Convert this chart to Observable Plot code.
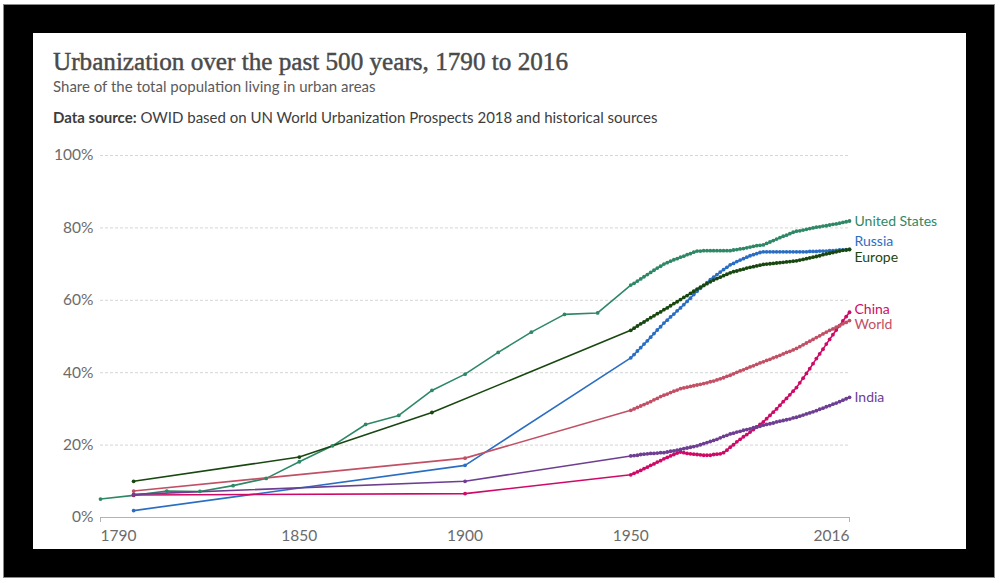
<!DOCTYPE html>
<html>
<head>
<meta charset="utf-8">
<script src="https://cdn.jsdelivr.net/npm/d3@7"></script>
<script src="https://cdn.jsdelivr.net/npm/@observablehq/plot@0.6"></script>
<style>
  html, body { margin: 0; padding: 0; background: #fff; width: 1000px; height: 583px; overflow: hidden; }
  #frame { position: absolute; left: 3px; top: 4px; width: 990px; height: 572px; background: #000; border: 1px solid #8a8a8a; }
  #panel { position: absolute; left: 33px; top: 33px; width: 933px; height: 516px; background: #fff; }
  .t { position: absolute; white-space: nowrap; }
  #title { left: 53px; top: 49px; font-family: "Liberation Serif", serif; font-size: 25px; line-height: 25px; color: #4a4a4a; transform-origin: 0 50%; -webkit-text-stroke: 0.45px #4a4a4a; }
  #subtitle { left: 53px; top: 78.5px; font-family: Lato, sans-serif; font-size: 15px; line-height: 15px; color: #5b5b5b; }
  #source { left: 53px; top: 110px; font-family: Lato, sans-serif; font-size: 15px; line-height: 15px; color: #3d3d3d; }
  #source b { font-weight: 700; }
  #chart { position: absolute; left: 40px; top: 140px; }
</style>
</head>
<body>
<div id="frame"></div>
<div id="panel"></div>
<div class="t" id="title">Urbanization over the past 500 years, 1790 to 2016</div>
<div class="t" id="subtitle">Share of the total population living in urban areas</div>
<div class="t" id="source"><b>Data source:</b> OWID based on UN World Urbanization Prospects 2018 and historical sources</div>
<div id="chart"></div>
<script>
// ---- Data ----
const seriesNames = ["United States", "Russia", "Europe", "China", "World", "India"];
const seriesColors = ["#2e8866", "#2a6ec4", "#18470f", "#cf0a66", "#c15065", "#6d3e91"];

// Historical (pre-1950) observations
const usHistYears = [1790, 1800, 1810, 1820, 1830, 1840, 1850, 1860, 1870, 1880, 1890, 1900, 1910, 1920, 1930, 1940];
const usHistValues = [5.1, 6.1, 7.3, 7.2, 8.8, 10.8, 15.4, 19.8, 25.7, 28.2, 35.1, 39.6, 45.6, 51.2, 56.1, 56.5];
const russiaHistYears = [1800, 1900];
const russiaHistValues = [1.9, 14.4];
const europeHistYears = [1800, 1850, 1890];
const europeHistValues = [10.0, 16.7, 29.0];
const chinaHistYears = [1800, 1900];
const chinaHistValues = [6.2, 6.6];
const worldHistYears = [1800, 1900];
const worldHistValues = [7.3, 16.4];
const indiaHistYears = [1800, 1900];
const indiaHistValues = [6.4, 10.0];

// Annual observations 1950–2016
const annualYears = d3.range(1950, 2017);
const usAnnual = [
  64.2, 64.7, 65.3, 65.9, 66.5, 67.1, 67.7, 68.3, 68.9, 69.4,
  70.0, 70.4, 70.8, 71.2, 71.5, 71.9, 72.2, 72.6, 72.9, 73.3,
  73.6, 73.6, 73.7, 73.7, 73.7, 73.7, 73.7, 73.7, 73.7, 73.7,
  73.7, 73.9, 74.0, 74.2, 74.3, 74.5, 74.7, 74.9, 75.1, 75.2,
  75.3, 75.7, 76.1, 76.5, 76.9, 77.3, 77.7, 78.0, 78.4, 78.8,
  79.1, 79.2, 79.4, 79.6, 79.8, 80.0, 80.2, 80.3, 80.5, 80.6,
  80.8, 81.0, 81.1, 81.3, 81.5, 81.7, 81.9];
const russiaAnnual = [
  44.1, 45.0, 46.0, 46.9, 47.9, 48.8, 49.8, 50.8, 51.8, 52.7,
  53.7, 54.5, 55.4, 56.2, 57.1, 57.9, 58.8, 59.7, 60.6, 61.6,
  62.5, 63.3, 64.1, 64.9, 65.7, 66.4, 67.1, 67.8, 68.5, 69.1,
  69.8, 70.2, 70.7, 71.1, 71.5, 71.9, 72.3, 72.6, 72.9, 73.2,
  73.4, 73.4, 73.4, 73.4, 73.4, 73.4, 73.4, 73.4, 73.4, 73.4,
  73.4, 73.4, 73.4, 73.4, 73.5, 73.5, 73.5, 73.6, 73.6, 73.6,
  73.7, 73.7, 73.8, 73.9, 73.9, 74.0, 74.1];
const europeAnnual = [
  51.7, 52.3, 52.9, 53.5, 54.0, 54.6, 55.2, 55.7, 56.3, 56.8,
  57.4, 57.9, 58.5, 59.1, 59.6, 60.2, 60.8, 61.3, 61.9, 62.5,
  63.1, 63.6, 64.1, 64.6, 65.1, 65.6, 66.0, 66.4, 66.8, 67.2,
  67.6, 67.9, 68.1, 68.4, 68.6, 68.9, 69.1, 69.3, 69.5, 69.7,
  69.9, 70.0, 70.1, 70.2, 70.3, 70.4, 70.5, 70.6, 70.7, 70.8,
  70.9, 71.1, 71.3, 71.5, 71.7, 71.9, 72.1, 72.3, 72.6, 72.8,
  73.0, 73.2, 73.4, 73.6, 73.8, 73.9, 74.0];
const chinaAnnual = [
  11.8, 12.2, 12.6, 13.0, 13.5, 13.9, 14.4, 14.8, 15.3, 15.7,
  16.2, 16.6, 17.0, 17.4, 17.8, 18.1, 17.9, 17.7, 17.6, 17.5,
  17.4, 17.3, 17.2, 17.2, 17.2, 17.4, 17.5, 17.6, 17.9, 18.6,
  19.4, 20.1, 20.9, 21.6, 22.3, 22.9, 23.6, 24.3, 25.0, 25.7,
  26.4, 27.3, 28.2, 29.1, 30.0, 31.0, 32.0, 32.9, 33.9, 34.9,
  35.9, 37.2, 38.5, 39.8, 41.1, 42.5, 43.9, 45.2, 46.5, 47.9,
  49.2, 50.5, 51.8, 53.0, 54.3, 55.5, 56.7];
const worldAnnual = [
  29.6, 30.0, 30.4, 30.8, 31.2, 31.6, 32.0, 32.5, 32.9, 33.4,
  33.8, 34.1, 34.5, 34.9, 35.2, 35.6, 35.8, 36.0, 36.2, 36.4,
  36.6, 36.8, 37.0, 37.2, 37.5, 37.7, 38.0, 38.3, 38.6, 39.0,
  39.3, 39.7, 40.1, 40.5, 40.8, 41.2, 41.6, 41.9, 42.3, 42.7,
  43.0, 43.4, 43.7, 44.1, 44.4, 44.8, 45.2, 45.6, 45.9, 46.3,
  46.7, 47.2, 47.7, 48.2, 48.7, 49.2, 49.7, 50.2, 50.7, 51.2,
  51.7, 52.1, 52.6, 53.0, 53.5, 53.9, 54.4];
const indiaAnnual = [
  17.0, 17.1, 17.2, 17.4, 17.5, 17.6, 17.7, 17.7, 17.8, 17.9,
  17.9, 18.1, 18.3, 18.4, 18.6, 18.8, 19.0, 19.2, 19.4, 19.6,
  19.8, 20.1, 20.4, 20.7, 21.0, 21.3, 21.6, 22.0, 22.4, 22.7,
  23.1, 23.3, 23.6, 23.8, 24.1, 24.3, 24.5, 24.8, 25.0, 25.2,
  25.5, 25.7, 25.9, 26.1, 26.4, 26.6, 26.8, 27.0, 27.2, 27.5,
  27.7, 28.0, 28.3, 28.6, 28.9, 29.2, 29.5, 29.9, 30.2, 30.6,
  30.9, 31.3, 31.6, 32.0, 32.4, 32.8, 33.2];

const yTicks = [0, 20, 40, 60, 80, 100];
const xTicks = [1790, 1850, 1900, 1950, 2016];

// ---- Assemble table ----
const parts = [
  ["United States", usHistYears, usHistValues, usAnnual],
  ["Russia", russiaHistYears, russiaHistValues, russiaAnnual],
  ["Europe", europeHistYears, europeHistValues, europeAnnual],
  ["China", chinaHistYears, chinaHistValues, chinaAnnual],
  ["World", worldHistYears, worldHistValues, worldAnnual],
  ["India", indiaHistYears, indiaHistValues, indiaAnnual]
];
const rows = [];
for (const [name, hy, hv, av] of parts) {
  hy.forEach((y, i) => rows.push({series: name, year: y, value: hv[i]}));
  annualYears.forEach((y, i) => rows.push({series: name, year: y, value: av[i]}));
}
const lastRows = seriesNames.map(n => rows.filter(r => r.series === n).at(-1));

// label vertical nudges (px) to avoid overlap
const labelDy = {"United States": 0, "Russia": -8, "Europe": 8, "China": -3, "World": 4, "India": 0};

const W = 920, H = 412;
const chart = Plot.plot({
  width: W, height: H,
  marginLeft: 60, marginRight: 111, marginTop: 15, marginBottom: 35,
  style: {fontFamily: "Lato, sans-serif", fontSize: "15px", color: "#6b6b6b", background: "transparent", overflow: "visible"},
  x: {domain: [1790, 2016]},
  y: {domain: [0, 100]},
  color: {domain: seriesNames, range: seriesColors},
  marks: [
    Plot.gridY({ticks: yTicks.filter(d => d > 0), stroke: "#d6d6d6", strokeOpacity: 1, strokeDasharray: "3,2"}),
    Plot.axisY({ticks: yTicks, tickFormat: d => d + "%", tickSize: 0, tickPadding: 7, label: null, fill: "#6b6b6b", fontSize: 15.5}),
    Plot.ruleY([0], {stroke: "#b3b3b3", strokeWidth: 1.2}),
    Plot.axisX({ticks: xTicks.slice(1, -1), tickFormat: d => String(d), tickSize: 0, tickPadding: 12.3, label: null, fill: "#6b6b6b", fontSize: 15.5}),
    Plot.axisX({ticks: [xTicks[0]], tickFormat: d => String(d), tickSize: 5, tickPadding: 7.3, textAnchor: "start", label: null, stroke: "#b3b3b3", fill: "#6b6b6b", fontSize: 15.5}),
    Plot.axisX({ticks: [xTicks.at(-1)], tickFormat: d => String(d), tickSize: 5, tickPadding: 7.3, textAnchor: "end", label: null, stroke: "#b3b3b3", fill: "#6b6b6b", fontSize: 15.5}),
    Plot.line(rows, {x: "year", y: "value", z: "series", stroke: "series", strokeWidth: 1.6}),
    Plot.dot(rows, {x: "year", y: "value", fill: "series", r: 1.9, stroke: null}),
    ...seriesNames.map(n => Plot.text(lastRows.filter(d => d.series === n), {
      x: "year", y: "value", text: "series", fill: "series", dx: 5, dy: labelDy[n],
      textAnchor: "start", fontSize: 14
    }))
  ]
});
document.getElementById("chart").appendChild(chart);

// fit title width to reference (~515px)
const t = document.getElementById("title");
const w = t.getBoundingClientRect().width;
t.style.transform = `scaleX(${515 / w})`;
</script>
</body>
</html>
